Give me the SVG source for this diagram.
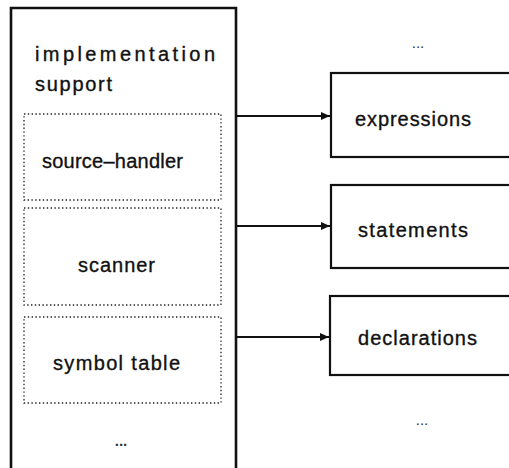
<svg xmlns="http://www.w3.org/2000/svg" width="509" height="468" viewBox="0 0 509 468">
  <style>
    .frame { fill: none; stroke: #111; stroke-width: 2.6; }
    .box { fill: #fff; stroke: #111; stroke-width: 2.2; }
    .dotted { fill: none; stroke: #222; stroke-width: 1.3; stroke-dasharray: 1.4 2.4; }
    .label { font-family: "Liberation Sans", Arial, sans-serif; font-size: 20px; fill: #111; stroke: #111; stroke-width: 0.35; }
    .title { font-family: "Liberation Sans", Arial, sans-serif; font-size: 20px; fill: #111; stroke: #111; stroke-width: 0.35; }
    .ellipsis { font-family: "Liberation Sans", Arial, sans-serif; font-size: 15px; fill: #333; text-anchor: middle; }
    .conn { stroke: #111; stroke-width: 2; fill: none; }
  </style>
  <defs>
    <marker id="arrowhead" markerUnits="userSpaceOnUse" markerWidth="10" markerHeight="10" refX="9" refY="5" orient="auto">
      <path d="M0,1 L9,5 L0,9 Z" fill="#111"/>
    </marker>
  </defs>

  <rect width="509" height="468" fill="#fff"/>

  <!-- implementation support column, open at the bottom -->
  <g id="implementation-support">
    <path class="frame" d="M11,468 V8 H236 V468"/>
    <text class="title" x="35" y="61" textLength="180" lengthAdjust="spacing">implementation</text>
    <text class="title" x="35" y="91" textLength="77" lengthAdjust="spacing">support</text>
    <text class="ellipsis" x="121" y="446" font-weight="bold">...</text>
  </g>

  <g id="source-handler">
    <rect class="dotted" x="24" y="114" width="197" height="86"/>
    <text class="label" x="42" y="168" textLength="141" lengthAdjust="spacing">source–handler</text>
  </g>

  <g id="scanner">
    <rect class="dotted" x="24" y="208" width="197" height="97"/>
    <text class="label" x="78" y="272" textLength="77" lengthAdjust="spacing">scanner</text>
  </g>

  <g id="symbol-table">
    <rect class="dotted" x="24" y="317" width="197" height="86"/>
    <text class="label" x="53" y="370" textLength="127" lengthAdjust="spacing">symbol table</text>
  </g>

  <!-- language part modules, running off the right edge -->
  <g id="top-more">
    <text class="ellipsis" x="418" y="48">...</text>
  </g>

  <g id="expressions">
    <rect class="box" x="331" y="73" width="200" height="84"/>
    <text class="label" x="355" y="126" textLength="116" lengthAdjust="spacing">expressions</text>
  </g>

  <g id="statements">
    <rect class="box" x="331" y="185" width="200" height="83"/>
    <text class="label" x="358" y="237" textLength="110" lengthAdjust="spacing">statements</text>
  </g>

  <g id="declarations">
    <rect class="box" x="330" y="296" width="200" height="79"/>
    <text class="label" x="358" y="345" textLength="119" lengthAdjust="spacing">declarations</text>
  </g>

  <g id="bottom-more">
    <text class="ellipsis" x="422" y="425">...</text>
  </g>

  <g id="connectors">
    <line class="conn" x1="237" y1="116" x2="330" y2="116" marker-end="url(#arrowhead)"/>
    <line class="conn" x1="237" y1="226" x2="330" y2="226" marker-end="url(#arrowhead)"/>
    <line class="conn" x1="237" y1="337" x2="329" y2="337" marker-end="url(#arrowhead)"/>
  </g>
</svg>
